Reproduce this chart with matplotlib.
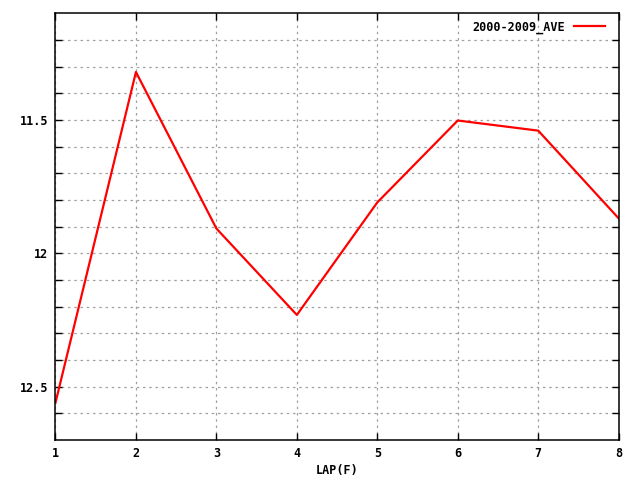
import numpy as np
import matplotlib
matplotlib.use("Agg")
import matplotlib.pyplot as plt

# datos
laps = [1, 2, 3, 4, 5, 6, 7, 8]
ave_2000_2009 = [12.56, 11.32, 11.907, 12.231, 11.809, 11.502, 11.54, 11.869]
ytick_labels = {11.5: "11.5", 12.0: "12", 12.5: "12.5"}

plt.rcParams['font.family'] = ['DejaVu Sans Mono']
plt.rcParams['font.weight'] = 'bold'

fig = plt.figure(figsize=(6.4, 4.8), dpi=100)
ax = fig.add_axes([0.0867, 0.0833, 0.880, 0.889])

ax.plot(laps, ave_2000_2009, color="#ff0000", lw=1.6, label="2000-2009_AVE")

ax.set_xlim(1, 8)
ax.set_ylim(12.7, 11.1)

ax.set_xticks(laps)
ax.set_xticklabels([str(l) for l in laps])
yt = np.round(np.arange(11.2, 12.65, 0.1), 1)
ax.set_yticks(yt)
ax.set_yticklabels([ytick_labels.get(float(v), "") for v in yt])

ax.tick_params(direction="in", length=5, width=1, top=True, right=True,
               labelsize=8.5)
ax.tick_params(axis="x", pad=5)
ax.tick_params(axis="y", pad=5)
ax.grid(True, color="#a0a0a0", linestyle=(0, (2, 3)), lw=0.9)

for s in ax.spines.values():
    s.set_linewidth(1.1)

ax.set_xlabel("LAP(F)", fontsize=8.5, fontweight="bold", labelpad=3)

ax.legend(loc="upper right", frameon=False, markerfirst=False, fontsize=8.5,
          handlelength=2.6, borderaxespad=0.2, handletextpad=0.8,
          bbox_to_anchor=(0.988, 1.0))

fig.savefig("out.png", dpi=100)
